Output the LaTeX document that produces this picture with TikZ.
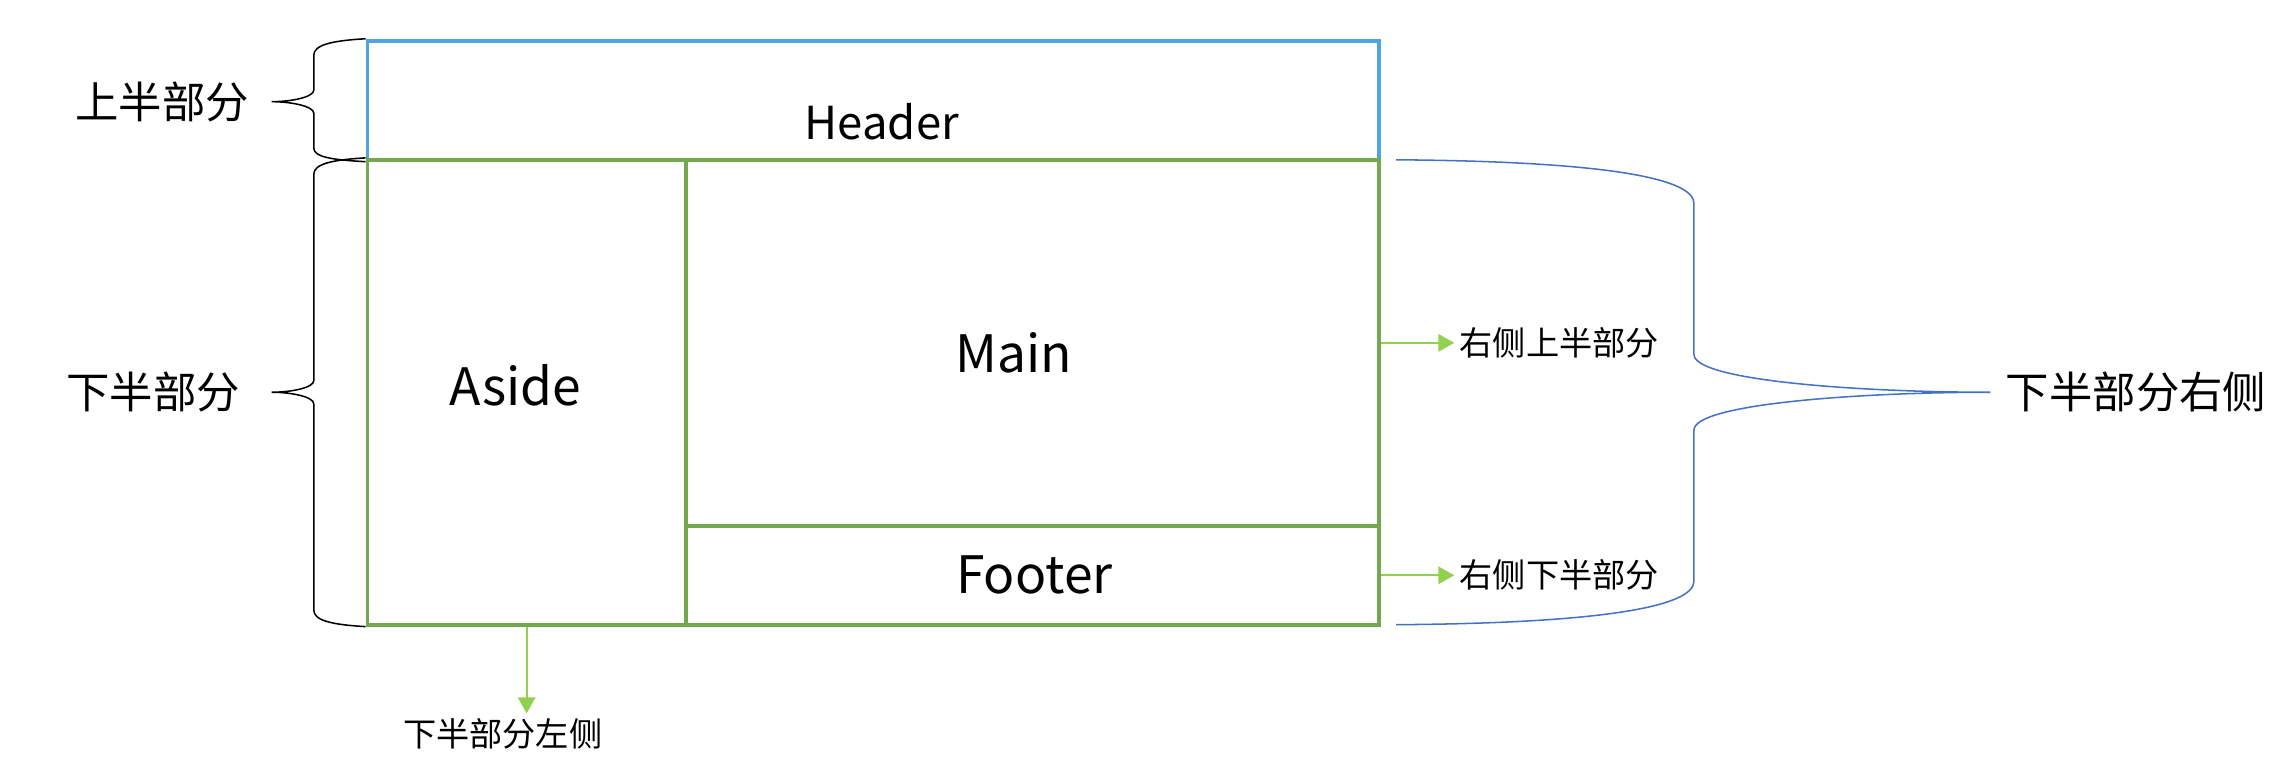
\documentclass[tikz,border=0pt]{standalone}
\usepackage{fontspec}
\setmainfont{Noto Sans CJK SC}
\usetikzlibrary{arrows.meta}
\definecolor{hdrblue}{RGB}{80,165,222}
\definecolor{boxgreen}{RGB}{116,168,78}
\definecolor{arrgreen}{RGB}{146,208,80}
\definecolor{brcblue}{RGB}{68,114,196}
\tikzset{
    part/.style={draw=#1, line width=0.75pt, rectangle, inner sep=0pt},
    txt/.style={inner sep=0pt, font=\fontsize{#1}{#1}\selectfont},
    arr/.style={arrgreen, line width=0.4pt, -{Triangle[length=1.1mm,width=1.2mm]}},
    brc/.style={line width=0.3pt}
}

\begin{document}
\begin{tikzpicture}[x=0.1mm,y=-0.1mm]
\useasboundingbox (0,0) rectangle (1568,537);
\node[part=hdrblue, minimum width=69.6mm, minimum height=8.2mm] (header) at (601,69) {};
\node[part=boxgreen, minimum width=21.9mm, minimum height=32mm] (aside) at (362.5,270) {};
\node[part=boxgreen, minimum width=47.7mm, minimum height=25.2mm] (main) at (710.5,236) {};
\node[part=boxgreen, minimum width=47.7mm, minimum height=6.8mm] (footer) at (710.5,396) {};

\node[txt=8.9] (htext) at (607,84) {Header};
\node[txt=10.1] (atext) at (355,265) {Aside};
\node[txt=10.1] (mtext) at (698,243) {Main};
\node[txt=10.1] (ftext) at (712,396) {Footer};

\draw[brc] (header.north west) .. controls (228,28) and (216,31) .. (216,38) -- (216,62)
    .. controls (216,67) and (200,70) .. (187,70) .. controls (200,70) and (216,73) .. (216,78)
    -- (216,102) .. controls (216,108) and (228,110) .. (header.south west);
\draw[brc] (aside.north west) .. controls (228,110) and (216,113) .. (216,120) -- (216,262)
    .. controls (216,267) and (200,270) .. (187,270) .. controls (200,270) and (216,273) .. (216,278)
    -- (216,420) .. controls (216,427) and (228,430) .. (aside.south west);
\draw[brc, brcblue] (961,110) .. controls (1100,111) and (1166,122) .. (1166,140) -- (1166,244)
    .. controls (1166,262) and (1280,270) .. (1370,270) .. controls (1280,270) and (1166,278) .. (1166,296)
    -- (1166,400) .. controls (1166,418) and (1100,429) .. (961,430);

\node[txt=8.5, anchor=east] (top) at (172,70) {上半部分};
\node[txt=8.5, anchor=east] (bottom) at (166,270) {下半部分};
\node[txt=8.5, anchor=west] (bright) at (1380,270) {下半部分右侧};

\coordinate (rtop) at (1001,236);
\coordinate (rbot) at (1001,396);
\coordinate (ldown) at (362.5,491);
\node[txt=6.5, anchor=west] (rtoptext) at (1004,236) {右侧上半部分};
\node[txt=6.5, anchor=west] (rbottext) at (1004,396) {右侧下半部分};
\node[txt=6.5] (lefttext) at (346,505) {下半部分左侧};

\draw[arr] (main.east) -- (rtop);
\draw[arr] (footer.east) -- (rbot);
\draw[arr] (aside.south) -- (ldown);
\end{tikzpicture}
\end{document}
